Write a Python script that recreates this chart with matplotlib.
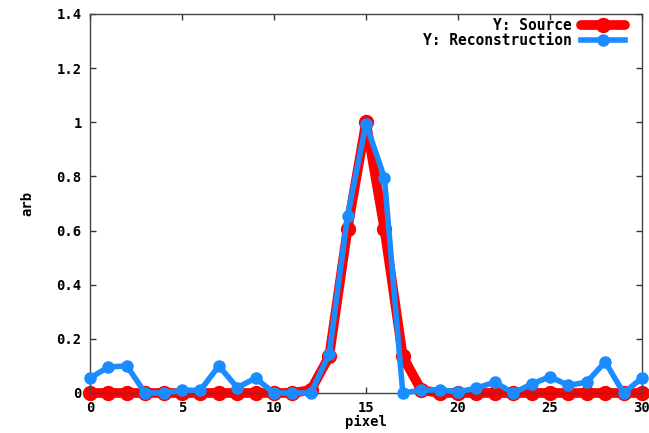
import matplotlib
matplotlib.use("Agg")
import matplotlib.pyplot as plt
from matplotlib.ticker import FuncFormatter

pixels = list(range(31))
source = [0, 0, 0, 0, 0, 0, 0, 0, 0, 0, 0, 0, 0.011, 0.135, 0.607, 1.0, 0.607,
          0.135, 0.011, 0, 0, 0, 0, 0, 0, 0, 0, 0, 0, 0, 0]
reconstruction = [0.055, 0.096, 0.10, 0.0, 0.0, 0.01, 0.01, 0.10, 0.02, 0.055,
                  0.0, 0.0, 0.0, 0.145, 0.655, 0.995, 0.795, 0.0, 0.01, 0.012,
                  0.004, 0.018, 0.04, 0.0, 0.033, 0.06, 0.028, 0.04, 0.115,
                  0.0, 0.055]
legend_labels = ["Y: Source", "Y: Reconstruction"]

RED = "#ff0000"
BLUE = "#1a8cff"
FONT = "DejaVu Sans Mono"

fig = plt.figure(figsize=(6.49, 4.33), dpi=100)
ax = fig.add_axes([0.1387, 0.0924, 0.8505, 0.8753])

ax.plot(pixels, source, color=RED, lw=7, marker="o", ms=10,
        solid_joinstyle="round", solid_capstyle="round",
        label=legend_labels[0], zorder=2, clip_on=False)
ax.plot(pixels, reconstruction, color=BLUE, lw=4, marker="o", ms=8,
        solid_joinstyle="round", label=legend_labels[1], zorder=3,
        clip_on=False)

ax.set_xlim(0, 30)
ax.set_ylim(0, 1.4)
ax.set_xticks(range(0, 31, 5))
ax.set_yticks([0, 0.2, 0.4, 0.6, 0.8, 1.0, 1.2, 1.4])
ax.yaxis.set_major_formatter(FuncFormatter(lambda v, p: f"{v:g}"))
ax.tick_params(direction="in", length=4, width=1, top=True, right=True,
               colors="#333333", labelcolor="black", labelsize=10, pad=6)
for lab in ax.get_xticklabels() + ax.get_yticklabels():
    lab.set_family(FONT)
    lab.set_fontweight("bold")
for s in ax.spines.values():
    s.set_color("#444444")
    s.set_linewidth(1)

ax.set_xlabel("pixel", family=FONT, fontweight="bold", fontsize=10, labelpad=0)
ax.set_ylabel("arb", family=FONT, fontweight="bold", fontsize=10, labelpad=16)

leg = ax.legend(loc="upper right", bbox_to_anchor=(0.974, 0.997),
                markerfirst=False, frameon=False,
                handlelength=3.0, labelspacing=0.0, borderaxespad=0.0,
                handletextpad=0.6, borderpad=0.2,
                prop={"family": FONT, "weight": "bold", "size": 10.5})
for t in leg.get_texts():
    t.set_ha("right")

fig.savefig("out.png", dpi=100)
